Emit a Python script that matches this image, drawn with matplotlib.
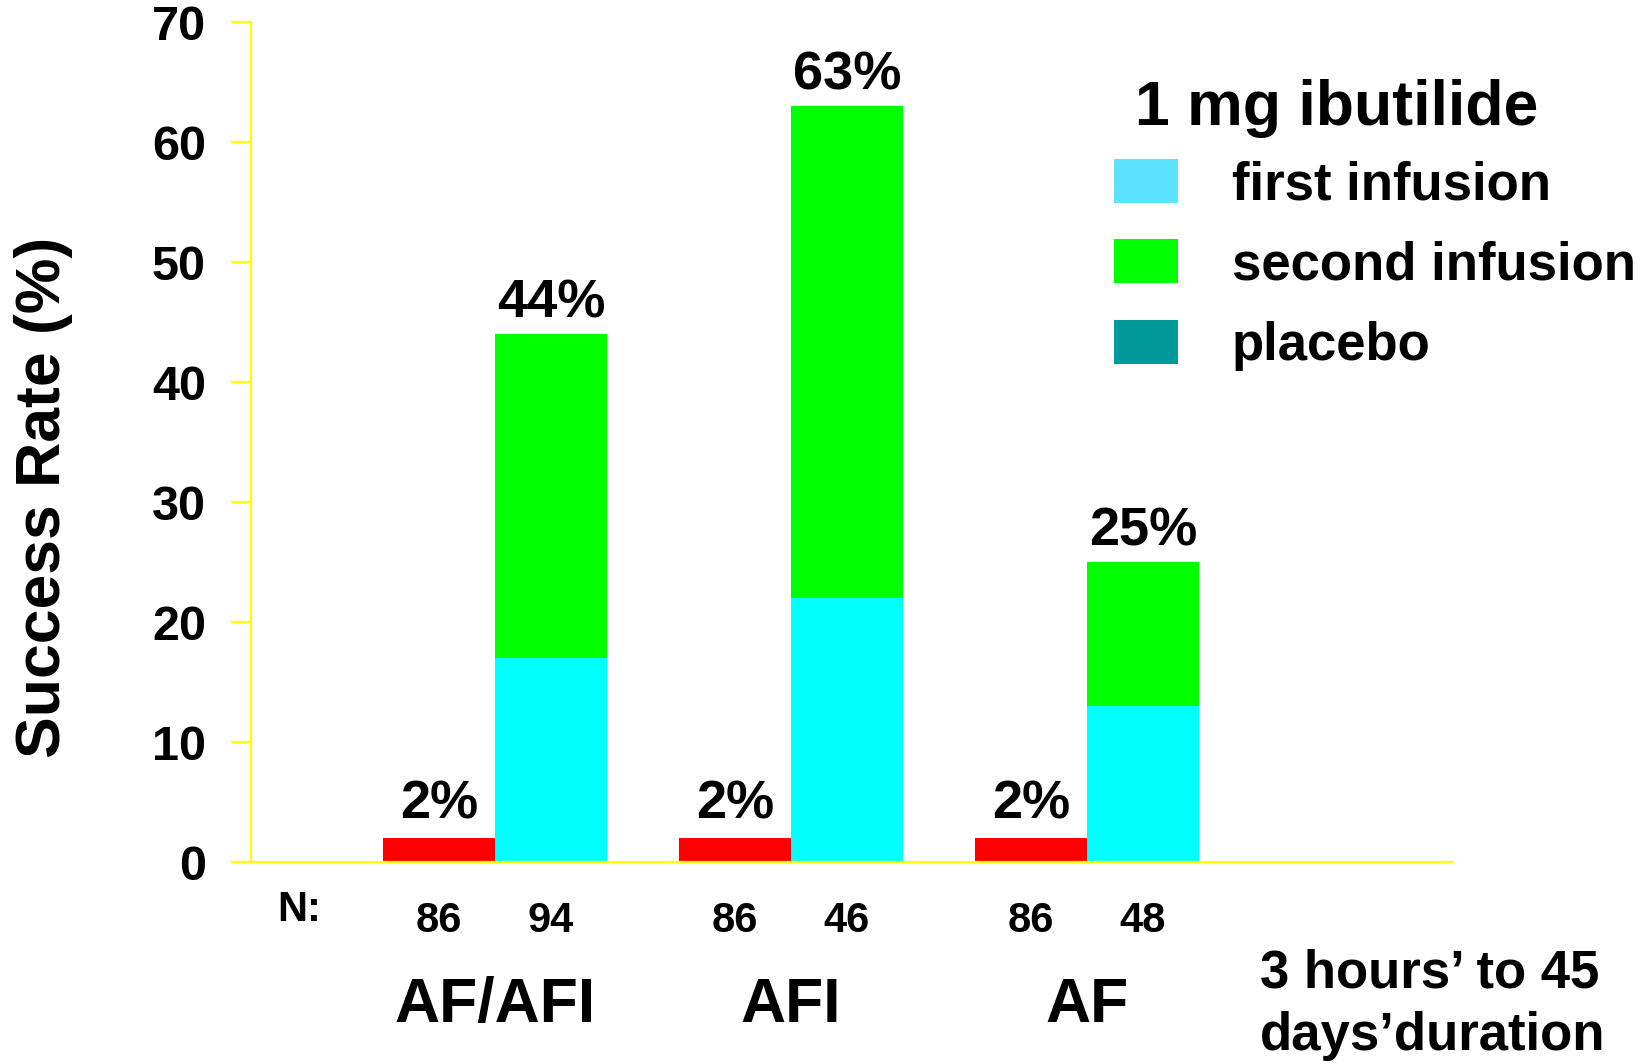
import matplotlib
matplotlib.use("Agg")
import matplotlib.pyplot as plt
from matplotlib.patches import Patch
import numpy as np

plt.rcParams['font.family'] = ['Liberation Sans', 'DejaVu Sans']
plt.rcParams['font.weight'] = 'bold'

# Data
groups = ["AF/AFI", "AFI", "AF"]
placebo = [2, 2, 2]
first_infusion = [17, 22, 13]
second_infusion = [27, 41, 12]
totals = [44, 63, 25]
n_placebo = [86, 86, 86]
n_ibutilide = [94, 46, 48]
yticks = [0, 10, 20, 30, 40, 50, 60, 70]

legend_title = "1 mg ibutilide"
legend_labels = ["first infusion", "second infusion", "placebo"]
duration_lines = ["3 hours\u2019 to 45", "days\u2019duration"]

# Colours
c_first = "#00FFFF"
c_second = "#00FF00"
c_placebo = "#FF0000"
leg_first = "#5CE3FF"
leg_second = "#00FF00"
leg_placebo = "#009999"
axis_col = "#FFFF00"

W, H = 1652, 1064
fig = plt.figure(figsize=(W / 100, H / 100), dpi=100)
ax = fig.add_axes([251 / W, 1 - 862 / H, (1452 - 251) / W, (862 - 22) / H])

x = np.arange(len(groups))
bw = 0.378
xp = x - bw / 2
xi = x + bw / 2

ax.bar(xp, placebo, width=bw, color=c_placebo, linewidth=0)
ax.bar(xi, first_infusion, width=bw, color=c_first, linewidth=0)
ax.bar(xi, second_infusion, width=bw, bottom=first_infusion, color=c_second, linewidth=0)

ax.set_xlim(-0.824, 3.233)
ax.set_ylim(0, 70)

for s in ["top", "right"]:
    ax.spines[s].set_visible(False)
for s in ["left", "bottom"]:
    ax.spines[s].set_color(axis_col)
    ax.spines[s].set_linewidth(1.6)

ax.set_yticks(yticks)
ax.set_yticklabels([str(v) for v in yticks], fontsize=35, fontweight='bold')
ax.tick_params(axis='y', direction='out', length=14.4, width=1.6, color=axis_col, pad=18)
ax.set_xticks([])

# value labels above bars
for xx, v in zip(xp, placebo):
    ax.annotate(f"{v}%", xy=(xx, v), xytext=(0, 14), textcoords='offset points',
                ha='center', va='baseline', fontsize=39, fontweight='bold')
for xx, v in zip(xi, totals):
    ax.annotate(f"{v}%", xy=(xx, v), xytext=(0, 12), textcoords='offset points',
                ha='center', va='baseline', fontsize=39, fontweight='bold')

# sample sizes below the axis
tr = ('data', 'axes fraction')
ax.annotate("N:", xy=(-0.661, 0), xycoords=tr, xytext=(0, -42.5), textcoords='offset points',
            ha='center', va='baseline', fontsize=30, fontweight='bold', annotation_clip=False)
for xx, n in zip(xp, n_placebo):
    ax.annotate(str(n), xy=(xx, 0), xycoords=tr, xytext=(0, -50.4), textcoords='offset points',
                ha='center', va='baseline', fontsize=30, fontweight='bold', annotation_clip=False)
for xx, n in zip(xi, n_ibutilide):
    ax.annotate(str(n), xy=(xx, 0), xycoords=tr, xytext=(0, -50.4), textcoords='offset points',
                ha='center', va='baseline', fontsize=30, fontweight='bold', annotation_clip=False)

# group names
for xx, g in zip(x, groups):
    ax.annotate(g, xy=(xx, 0), xycoords=tr, xytext=(0, -115.2), textcoords='offset points',
                ha='center', va='baseline', fontsize=45, fontweight='bold', annotation_clip=False)

# duration note
for i, line in enumerate(duration_lines):
    ax.annotate(line, xy=(2.584, 0), xycoords=tr, xytext=(0, -90.0 - i * 45.4),
                textcoords='offset points', ha='left', va='baseline', fontsize=38,
                fontweight='bold', annotation_clip=False)

# y axis label
fig.text(44 / W, 1 - 497 / H, "Success Rate (%)", rotation=90, ha='center', va='center',
         fontsize=45, fontweight='bold')

# legend
fig.text(1135 / W, 1 - 125 / H, legend_title, ha='left', va='baseline',
         fontsize=45, fontweight='bold')
handles = [Patch(facecolor=leg_first, edgecolor='none'),
           Patch(facecolor=leg_second, edgecolor='none'),
           Patch(facecolor=leg_placebo, edgecolor='none')]
leg = fig.legend(handles, legend_labels, loc='upper left',
                 bbox_to_anchor=(1114 / W, 1 - 159 / H), frameon=False,
                 prop={'size': 38, 'weight': 'bold'},
                 handlelength=1.21, handleheight=0.91,
                 handletextpad=1.02, labelspacing=0.55, borderpad=0, borderaxespad=0)

fig.savefig("out.png", dpi=100, facecolor='white')
